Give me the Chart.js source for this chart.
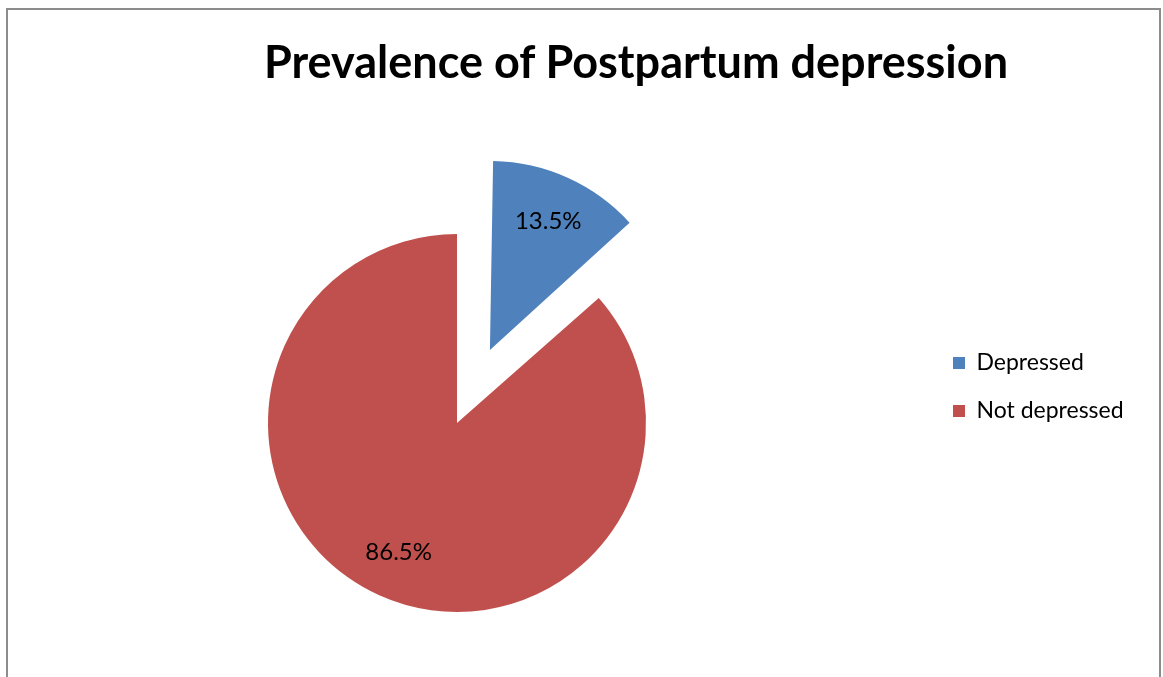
<!DOCTYPE html>
<html>
<head>
<meta charset="utf-8">
<script src="https://cdn.jsdelivr.net/npm/chart.js@4.4.0/dist/chart.umd.min.js"></script>
<style>
  html, body { margin: 0; padding: 0; background: #fff; overflow: hidden; width: 1163px; height: 677px; }
  .frame {
    position: absolute; left: 6px; top: 8px;
    width: 1151px; height: 700px;
    border: 2px solid #8c8c8c;
  }
  h1 {
    position: absolute; left: 0; top: 35px; width: 1272px; margin: 0;
    font: bold 45px Lato, sans-serif; line-height: 52px;
    text-align: center; color: #000;
  }
  /* canvas sits a bit left of the page and runs below it, so the pie lands where the original has it */
  #chart { position: absolute; left: -14px; top: 0; }
</style>
</head>
<body>
<div class="frame"></div>
<canvas id="chart" width="1177" height="846"></canvas>
<h1>Prevalence of Postpartum depression</h1>
<script>
const categories = ['Depressed', 'Not depressed'];
const shares = [13.5, 86.5];
const sliceColors = ['#4F81BD', '#C0504D'];

const pieCenterX = 471; // canvas px

// Chart.js grows an exploded arc's radius a bit; keep it equal to the rest of the pie
const keepRadius = {
  id: 'keepRadius',
  afterDatasetUpdate(chart, args) {
    args.meta.data.forEach(arc => {
      const off = (arc.options.offset || 0) / 4;
      if (!off) return;
      const fix = 1 - Math.sin(Math.min(Math.PI, arc.circumference));
      arc.outerRadius -= off * fix;
    });
  }
};

// percentage labels inside the slices
const sliceLabels = {
  id: 'sliceLabels',
  afterDatasetsDraw(chart) {
    const ctx = chart.ctx;
    const meta = chart.getDatasetMeta(0);
    const R = meta.controller.outerRadius;
    ctx.save();
    ctx.font = '24px Lato';
    ctx.fillStyle = '#000';
    ctx.textAlign = 'center';
    ctx.textBaseline = 'middle';
    meta.data.forEach((arc, i) => {
      const mid = (arc.startAngle + arc.endAngle) / 2;
      const r = R * 0.75 + (arc.options.offset || 0) / 4;
      ctx.fillText(shares[i].toFixed(1) + '%', arc.x + Math.cos(mid) * r, arc.y + Math.sin(mid) * r);
    });
    ctx.restore();
  }
};

const chart = new Chart(document.getElementById('chart'), {
  type: 'pie',
  data: {
    labels: categories,
    datasets: [{
      data: shares,
      backgroundColor: sliceColors,
      borderWidth: 0,
      offset: [320, 0]
    }]
  },
  options: {
    responsive: false,
    animation: false,
    radius: 189,
    layout: {
      // negative top only moves the legend up, the pie area stays 0..846
      padding: { top: -72, bottom: 0, left: 0, right: 0 }
    },
    plugins: {
      legend: {
        position: 'right',
        labels: {
          color: '#000',
          font: { family: 'Lato', size: 23 },
          boxWidth: 12,
          boxHeight: 12,
          padding: 25
        }
      },
      tooltip: { enabled: false }
    }
  },
  plugins: [keepRadius, sliceLabels]
});

// second pass: right padding so the chart area ends at 2 * pieCenterX
chart.options.layout.padding.right = chart.width - 2 * pieCenterX - chart.legend.width;
chart.update();
</script>
</body>
</html>
